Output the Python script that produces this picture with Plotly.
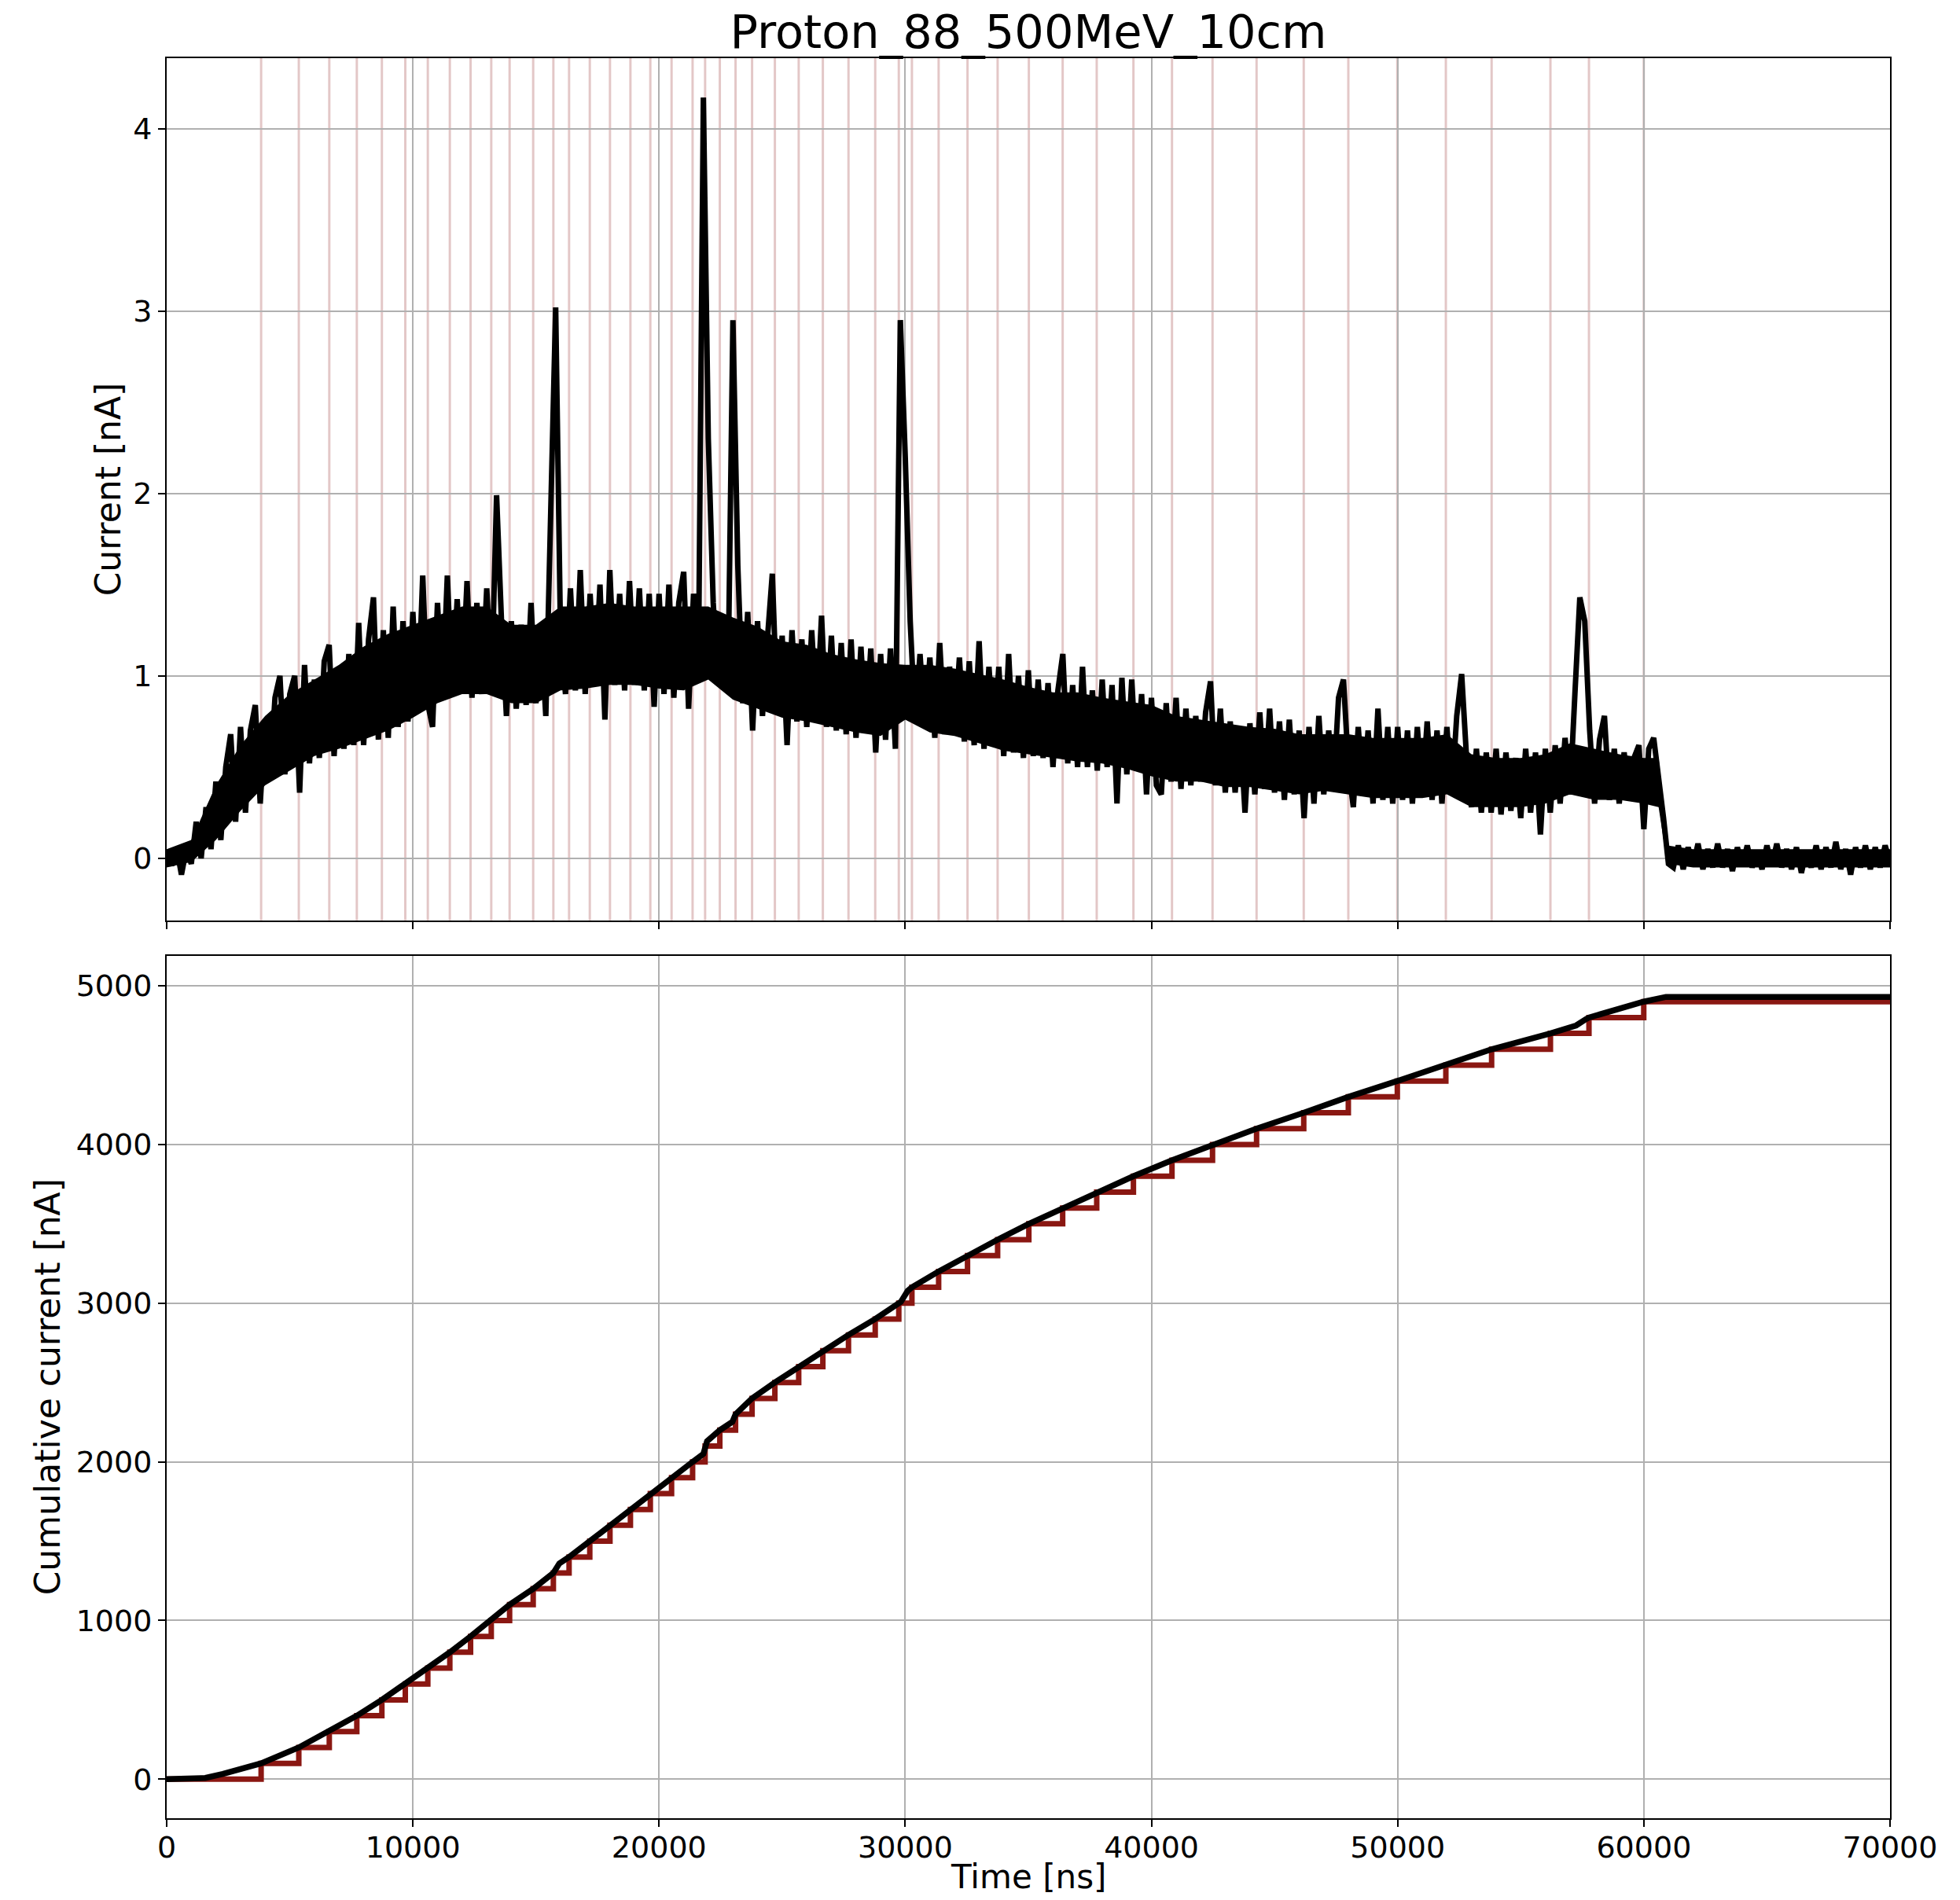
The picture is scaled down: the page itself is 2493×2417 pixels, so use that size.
import numpy as np
import plotly.graph_objects as go

# ---------------- data ----------------
SAMPLE_NS = 200  # spacing of the digitised current samples

cur_00k = [0.04, -0.04, 0.06, -0.09, 0.05, -0.03, 0.20, 0.00, 0.28, 0.05,
           0.42, 0.10, 0.50, 0.68, 0.20, 0.72, 0.25, 0.70, 0.84, 0.30,
           0.75, 0.45, 0.88, 1.00, 0.46, 0.90, 1.00, 0.36, 1.06, 0.52,
           0.98, 0.55, 1.08, 1.17, 0.56, 1.05, 0.60, 1.12, 0.62, 1.29,
           0.62, 1.20, 1.43, 0.65, 1.25, 0.66, 1.38, 0.72, 1.30, 0.75]
cur_10k = [1.35, 0.82, 1.55, 0.85, 0.72, 1.40, 0.88, 1.55, 0.90, 1.42,
           0.92, 1.52, 0.88, 1.40, 0.90, 1.48, 0.95, 1.99, 1.30, 0.78,
           1.30, 0.82, 1.28, 0.84, 1.40, 0.85, 1.25, 0.78, 1.90, 3.02,
           1.20, 0.90, 1.48, 0.92, 1.58, 0.90, 1.45, 0.95, 1.50, 0.76,
           1.58, 0.95, 1.45, 0.92, 1.52, 0.95, 1.48, 0.92, 1.45, 0.83]
cur_20k = [1.45, 0.90, 1.50, 0.88, 1.40, 1.57, 0.82, 1.45, 1.05, 4.17,
           2.30, 1.40, 0.95, 1.30, 0.95, 2.95, 1.60, 0.85, 1.35, 0.70,
           1.30, 0.78, 1.20, 1.56, 0.80, 1.22, 0.62, 1.25, 0.75, 1.20,
           0.72, 1.25, 0.78, 1.33, 0.72, 1.22, 0.70, 1.18, 0.68, 1.20,
           0.66, 1.16, 0.70, 1.15, 0.58, 1.12, 0.65, 1.15, 0.60, 2.95]
cur_30k = [2.20, 1.30, 0.75, 1.12, 0.72, 1.10, 0.66, 1.18, 0.68, 1.05,
           0.70, 1.10, 0.64, 1.08, 0.62, 1.19, 0.60, 1.05, 0.62, 1.05,
           0.56, 1.12, 0.58, 1.00, 0.55, 1.03, 0.56, 0.98, 0.55, 0.96,
           0.50, 0.92, 1.12, 0.52, 0.95, 0.50, 1.05, 0.50, 0.92, 0.48,
           0.98, 0.50, 0.95, 0.30, 0.99, 0.46, 0.98, 0.48, 0.90, 0.35]
cur_40k = [0.88, 0.40, 0.35, 0.85, 0.42, 0.88, 0.38, 0.82, 0.40, 0.78,
           0.42, 0.80, 0.97, 0.40, 0.82, 0.36, 0.75, 0.36, 0.72, 0.25,
           0.74, 0.35, 0.80, 0.38, 0.82, 0.36, 0.75, 0.32, 0.76, 0.35,
           0.70, 0.22, 0.72, 0.30, 0.78, 0.35, 0.70, 0.40, 0.88, 0.98,
           0.50, 0.28, 0.72, 0.35, 0.70, 0.30, 0.82, 0.32, 0.72, 0.30]
cur_50k = [0.72, 0.32, 0.70, 0.30, 0.72, 0.35, 0.75, 0.32, 0.70, 0.30,
           0.72, 0.35, 0.78, 1.01, 0.55, 0.28, 0.60, 0.25, 0.58, 0.25,
           0.60, 0.24, 0.58, 0.26, 0.55, 0.22, 0.60, 0.25, 0.58, 0.13,
           0.60, 0.25, 0.62, 0.30, 0.66, 0.35, 0.90, 1.43, 1.30, 0.70,
           0.30, 0.65, 0.78, 0.32, 0.60, 0.30, 0.58, 0.32, 0.55, 0.62]
cur_60k = [0.16, 0.60, 0.66, 0.45, 0.22, -0.03, -0.05, 0.07, -0.06, 0.06,
           -0.04, 0.08, -0.06, 0.05, -0.05, 0.08, -0.05, 0.05, -0.07, 0.06,
           -0.04, 0.07, -0.05, 0.04, -0.06, 0.07, -0.04, 0.08, -0.05, 0.05,
           -0.06, 0.06, -0.08, 0.04, -0.05, 0.07, -0.06, 0.06, -0.05, 0.09,
           -0.06, 0.05, -0.09, 0.06, -0.05, 0.07, -0.06, 0.06, -0.05, 0.07,
           -0.02]

# dense (solid) core of the noisy current band
band_t = [0, 1000, 2000, 3000, 4000, 5000, 6000, 7000, 8000, 9000,
          10000, 11000, 12000, 13000, 14000, 15000, 16000, 17000, 18000, 19000,
          20000, 21000, 22000, 23000, 24000, 25000, 26000, 27000, 28000, 29000,
          30000, 31000, 32000, 33000, 34000, 35000, 36000, 37000, 38000, 39000,
          40000, 41000, 42000, 43000, 44000, 45000, 46000, 47000, 48000, 49000,
          50000, 51000, 52000, 53000, 54000, 55000, 56000, 57000, 58000, 59000,
          60000, 60600, 60950, 62000, 64000, 66000, 68000, 70000]
band_lo = [-0.05, -0.02, 0.10, 0.26, 0.40, 0.48, 0.56, 0.60, 0.65, 0.70,
           0.77, 0.85, 0.90, 0.90, 0.85, 0.85, 0.92, 0.93, 0.95, 0.95,
           0.93, 0.92, 0.98, 0.87, 0.82, 0.77, 0.75, 0.72, 0.69, 0.67,
           0.76, 0.69, 0.67, 0.63, 0.59, 0.57, 0.55, 0.53, 0.52, 0.49,
           0.45, 0.42, 0.42, 0.39, 0.39, 0.37, 0.35, 0.37, 0.35, 0.33,
           0.33, 0.33, 0.35, 0.28, 0.28, 0.28, 0.30, 0.35, 0.32, 0.32,
           0.30, 0.28, -0.03, -0.05, -0.05, -0.05, -0.05, -0.05]
band_hi = [0.05, 0.10, 0.40, 0.62, 0.78, 0.90, 0.98, 1.06, 1.16, 1.23,
           1.28, 1.33, 1.38, 1.38, 1.28, 1.28, 1.38, 1.38, 1.40, 1.38,
           1.38, 1.38, 1.38, 1.32, 1.27, 1.19, 1.17, 1.12, 1.09, 1.07,
           1.06, 1.06, 1.04, 1.01, 0.98, 0.94, 0.91, 0.91, 0.88, 0.86,
           0.84, 0.78, 0.76, 0.74, 0.72, 0.71, 0.68, 0.68, 0.68, 0.66,
           0.66, 0.66, 0.68, 0.57, 0.55, 0.55, 0.57, 0.63, 0.60, 0.57,
           0.55, 0.55, 0.07, 0.05, 0.05, 0.05, 0.05, 0.05]

# times (ns) at which the cumulative current passes each 100 nA step
step_times = [3836, 5367, 6605, 7723, 8741, 9693, 10607, 11501, 12344, 13184,
              13929, 14887, 15707, 16345, 17186, 18006, 18837, 19645, 20508, 21362,
              21870, 22468, 23107, 23778, 24704, 25672, 26653, 27694, 28780, 29738,
              30271, 31356, 32529, 33752, 35020, 36394, 37777, 39268, 40834, 42481,
              44270, 46186, 47997, 49987, 51958, 53817, 56206, 57771, 59997]
step_levels = [0, 100, 200, 300, 400, 500, 600, 700, 800, 900,
               1000, 1100, 1200, 1300, 1400, 1500, 1600, 1700, 1800, 1900,
               2000, 2100, 2200, 2300, 2400, 2500, 2600, 2700, 2800, 2900,
               3000, 3100, 3200, 3300, 3400, 3500, 3600, 3700, 3800, 3900,
               4000, 4100, 4200, 4300, 4400, 4500, 4600, 4700, 4800, 4900, 4900]

cum_t = [0, 800, 1570, 2280, 3000, 3836, 5367, 6605, 7723, 8741,
         9693, 10607, 11501, 12344, 13184, 13929, 14887, 15707, 15950, 16345,
         17186, 18006, 18837, 19645, 20508, 21362, 21800, 21950, 22468, 22980,
         23107, 23778, 24704, 25672, 26653, 27694, 28780, 29738, 29820, 30100,
         30271, 31356, 32529, 33752, 35020, 36394, 37777, 39268, 40834, 42481,
         44270, 46186, 47997, 49987, 51958, 53817, 56206, 57250, 57650, 57771,
         59997, 60500, 60900, 70000]
cum_v = [0, 1, 8, 33, 60, 100, 200, 300, 400, 500,
         600, 700, 800, 900, 1000, 1100, 1200, 1300, 1360, 1400,
         1500, 1600, 1700, 1800, 1900, 2000, 2050, 2130, 2200, 2252,
         2300, 2400, 2500, 2600, 2700, 2800, 2900, 3000, 3008, 3078,
         3100, 3200, 3300, 3400, 3500, 3600, 3700, 3800, 3900, 4000,
         4100, 4200, 4300, 4400, 4500, 4600, 4700, 4750, 4790, 4800,
         4900, 4922, 4930, 4930]

X_RANGE = [0, 70000]
x_ticks = [0, 10000, 20000, 30000, 40000, 50000, 60000, 70000]
y1_ticks = [0, 1, 2, 3, 4]
y2_ticks = [0, 1000, 2000, 3000, 4000, 5000]

# ---------------- figure ----------------
current = np.array(cur_00k + cur_10k + cur_20k + cur_30k + cur_40k + cur_50k + cur_60k)
t_cur = np.arange(len(current)) * SAMPLE_NS

W, H = 2493, 2417
L, R, T, B = 212, 89, 74, 104
FONT = "DejaVu Sans"
DARKRED = "#8a1712"

fig = go.Figure()
# solid core of the noise band
fig.add_trace(go.Scatter(x=band_t, y=band_lo, mode="lines", line=dict(color="black", width=0),
                         xaxis="x", yaxis="y", showlegend=False, hoverinfo="skip"))
fig.add_trace(go.Scatter(x=band_t, y=band_hi, mode="lines", line=dict(color="black", width=0),
                         fill="tonexty", fillcolor="black",
                         xaxis="x", yaxis="y", showlegend=False, hoverinfo="skip"))
fig.add_trace(go.Scatter(x=t_cur, y=current, mode="lines",
                         line=dict(color="black", width=7), xaxis="x", yaxis="y",
                         showlegend=False))
step_x = [0] + step_times + [70000]
fig.add_trace(go.Scatter(x=step_x, y=step_levels, mode="lines", line_shape="hv",
                         line=dict(color=DARKRED, width=7), xaxis="x2", yaxis="y2",
                         showlegend=False))
fig.add_trace(go.Scatter(x=cum_t, y=cum_v, mode="lines",
                         line=dict(color="black", width=7.5), xaxis="x2", yaxis="y2",
                         showlegend=False))

shapes = []
for st in step_times:
    shapes.append(dict(type="line", xref="x", yref="y domain", x0=st, x1=st, y0=0, y1=1,
                       line=dict(color="rgba(128,0,0,0.22)", width=3), layer="below"))

ph = H - T - B
top_dom = [(H - B - 1170.7) / ph, 1.0]
bot_dom = [0.0, (H - B - 1215.7) / ph]

axis_common = dict(showline=True, mirror=True, linecolor="black", linewidth=2,
                   ticks="outside", ticklen=9, tickwidth=2, tickcolor="black",
                   showgrid=True, gridcolor="#b0b0b0", gridwidth=2, zeroline=False,
                   tickformat="d",
                   tickfont=dict(family=FONT, size=38, color="black"))

fig.update_layout(
    width=W, height=H, margin=dict(l=L, r=R, t=T, b=B),
    paper_bgcolor="white", plot_bgcolor="white",
    font=dict(family=FONT, color="black"),
    title=dict(text="Proton_88_500MeV_10cm", x=(L + (W - R)) / 2 / W, xanchor="center",
               y=1 - 40 / H, yanchor="middle", yref="container",
               font=dict(family=FONT, size=59, color="black")),
    xaxis=dict(anchor="y", domain=[0, 1], range=X_RANGE, tickvals=x_ticks,
               showticklabels=False, **axis_common),
    yaxis=dict(anchor="x", domain=top_dom, range=[-0.34, 4.386], tickvals=y1_ticks,
               **axis_common),
    xaxis2=dict(anchor="y2", domain=[0, 1], range=X_RANGE, tickvals=x_ticks,
                ticklabelstandoff=-7, **axis_common),
    yaxis2=dict(anchor="x2", domain=bot_dom, range=[-246, 5190], tickvals=y2_ticks,
                **axis_common),
    shapes=shapes,
    annotations=[
        dict(text="Current [nA]", xref="paper", yref="paper",
             x=(137 - L) / (W - L - R), y=(top_dom[0] + top_dom[1]) / 2,
             xanchor="center", yanchor="middle", textangle=-90, showarrow=False,
             font=dict(family=FONT, size=44, color="black")),
        dict(text="Cumulative current [nA]", xref="paper", yref="paper",
             x=(60 - L) / (W - L - R), y=(bot_dom[0] + bot_dom[1]) / 2,
             xanchor="center", yanchor="middle", textangle=-90, showarrow=False,
             font=dict(family=FONT, size=44, color="black")),
        dict(text="Time [ns]", xref="paper", yref="paper",
             x=0.5, y=-(2387 - (H - B)) / ph,
             xanchor="center", yanchor="middle", showarrow=False,
             font=dict(family=FONT, size=42, color="black")),
    ],
)

fig.write_html("out.html")
